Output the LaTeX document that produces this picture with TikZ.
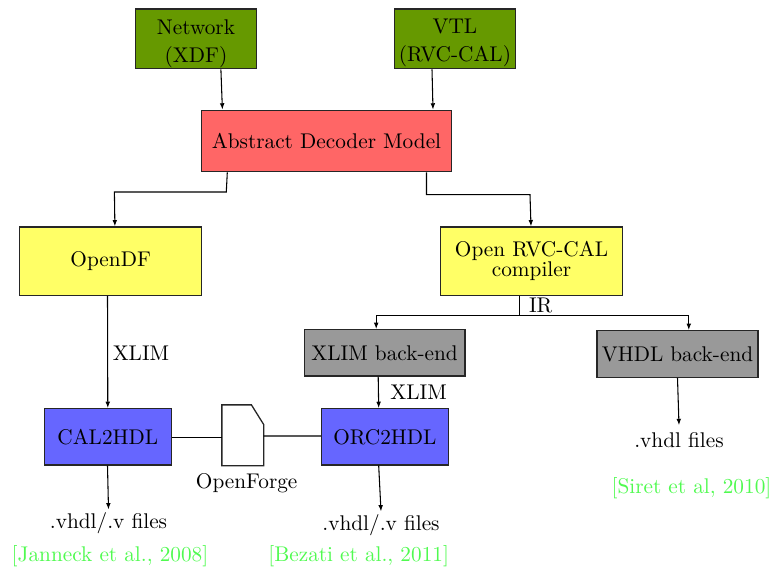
\documentclass[tikz,border=0pt]{standalone}
\usetikzlibrary{arrows.meta,calc}
\def\pxu{0.47pt}
\definecolor{leafgreen}{RGB}{102,153,0}
\definecolor{modelred}{RGB}{255,102,102}
\definecolor{toolyellow}{RGB}{255,255,102}
\definecolor{backgray}{RGB}{153,153,153}
\definecolor{hdlblue}{RGB}{102,102,255}
\definecolor{citegreen}{RGB}{80,250,80}
\tikzset{
  box/.style={draw=black!85, line width=0.6pt, inner sep=0pt, align=center},
  boxtext/.style={inner sep=0pt, align=center},
  lbl/.style={inner sep=1pt, anchor=base},
  cite/.style={lbl, text=citegreen},
  arr/.style={-{Latex[length=3pt,width=2.2pt]}, line width=0.5pt},
  wire/.style={line width=0.5pt},
}
\begin{document}
\begin{tikzpicture}[x=0.47pt, y=-0.47pt]
\useasboundingbox (0,0) rectangle (771,570);

% input descriptions
\node[box, fill=leafgreen, minimum width=121*\pxu, minimum height=59.7*\pxu] (net) at (196,38.9) {};
\node[boxtext] (nettext) at ($(net.center)+(0,5)$) {Network\\[1pt](XDF)};
\node[box, fill=leafgreen, minimum width=121*\pxu, minimum height=59.7*\pxu] (vtl) at (454.9,38.9) {};
\node[boxtext] (vtltext) at ($(vtl.center)+(0,4)$) {VTL\\[1pt](RVC-CAL)};

% common model
\node[box, fill=modelred, minimum width=249.5*\pxu, minimum height=61.4*\pxu] (adm) at (326.5,141) {Abstract Decoder Model};

% front ends
\node[box, fill=toolyellow, minimum width=182*\pxu, minimum height=68.3*\pxu] (opendf) at (110.7,261.2) {OpenDF};
\node[box, fill=toolyellow, minimum width=181.5*\pxu, minimum height=68.3*\pxu] (orvc) at (531.5,261.2) {Open RVC-CAL\\[-2.5pt]compiler};

% back ends
\node[box, fill=backgray, minimum width=160.8*\pxu, minimum height=46.3*\pxu] (xlimbe) at (384.6,352.9) {XLIM back-end};
\node[box, fill=backgray, minimum width=161*\pxu, minimum height=46.6*\pxu] (vhdlbe) at (677.5,354) {VHDL back-end};

% HDL generators
\node[box, fill=hdlblue, minimum width=126.7*\pxu, minimum height=56.3*\pxu] (cal) at (107.8,436.9) {CAL2HDL};
\node[box, fill=hdlblue, minimum width=126.7*\pxu, minimum height=56.3*\pxu] (orc) at (384.9,436.9) {ORC2HDL};

% OpenForge document shape
\node[minimum width=41*\pxu, minimum height=60*\pxu, inner sep=0pt] (forge) at (242.8,435.3) {};
\draw[fill=white, line width=0.6pt, draw=black!85]
  (forge.north west) -- ([xshift=-12.3*\pxu]forge.north east)
  -- ([yshift=-19.7*\pxu]forge.north east) -- (forge.south east)
  -- (forge.south west) -- cycle;

% labels
\node[lbl] (xlima) at (141,360.5) {XLIM};
\node[lbl] (xlimb) at (418.6,399) {XLIM};
\node[lbl] (ir) at (540.7,312.5) {IR};
\node[lbl] (oflbl) at (246.7,488.7) {OpenForge};
\node[lbl] (fa) at (108.5,528) {.vhdl/.v files};
\node[lbl] (fb) at (381,530) {.vhdl/.v files};
\node[lbl, inner sep=3pt] (fc) at (679,447) {.vhdl files};
\node[cite] (ca) at (110,561) {[Janneck et al., 2008]};
\node[cite] (cb) at (358.7,561) {[Bezati et al., 2011]};
\node[cite] (cc) at (691.5,493) {[Siret et al, 2010]};

% connectors
\draw[arr] ($(net.south)+(24.9,0)$) -- ($(adm.north)+(-104.1,0)$);
\draw[arr] ($(vtl.south)+(-22.9,0)$) -- ($(adm.north)+(106.5,0)$);
\draw[arr] ($(adm.south)+(-99.2,0)$) -- (226.3,192) -- (114.4,192) -- ($(opendf.north)+(4.2,0)$);
\draw[arr] ($(adm.south)+(100,0)$) -- (426.5,194.7) -- (530,194.7) -- ($(orvc.north)+(-0.5,0)$);

\coordinate (irsplit) at ($(orvc.south)+(-12.3,19.4)$);
\draw[wire] ($(orvc.south)+(-12.3,0)$) -- (irsplit);
\draw[arr] (irsplit) -| ($(xlimbe.north)+(-8.4,0)$);
\draw[arr] (irsplit) -| ($(vhdlbe.north)+(11.3,0)$);

\draw[arr] ($(opendf.south)+(-3.2,0)$) -- (cal.north);
\draw[arr] ($(xlimbe.south)+(-6.4,0)$) -- ($(orc.north)+(-6.2,0)$);
\draw[arr] ($(cal.south)+(-0.3,0)$) -- (fa.north);
\draw[arr] ($(orc.south)+(-6.2,0)$) -- (fb.north);
\draw[arr] (vhdlbe.south) -- (fc.north);

\draw[wire] ($(cal.east)+(0,0.8)$) -- ($(forge.west)+(0,2.4)$);
\draw[wire] ($(forge.east)+(0,0.7)$) -- ($(orc.west)+(0,-0.9)$);
\end{tikzpicture}
\end{document}
